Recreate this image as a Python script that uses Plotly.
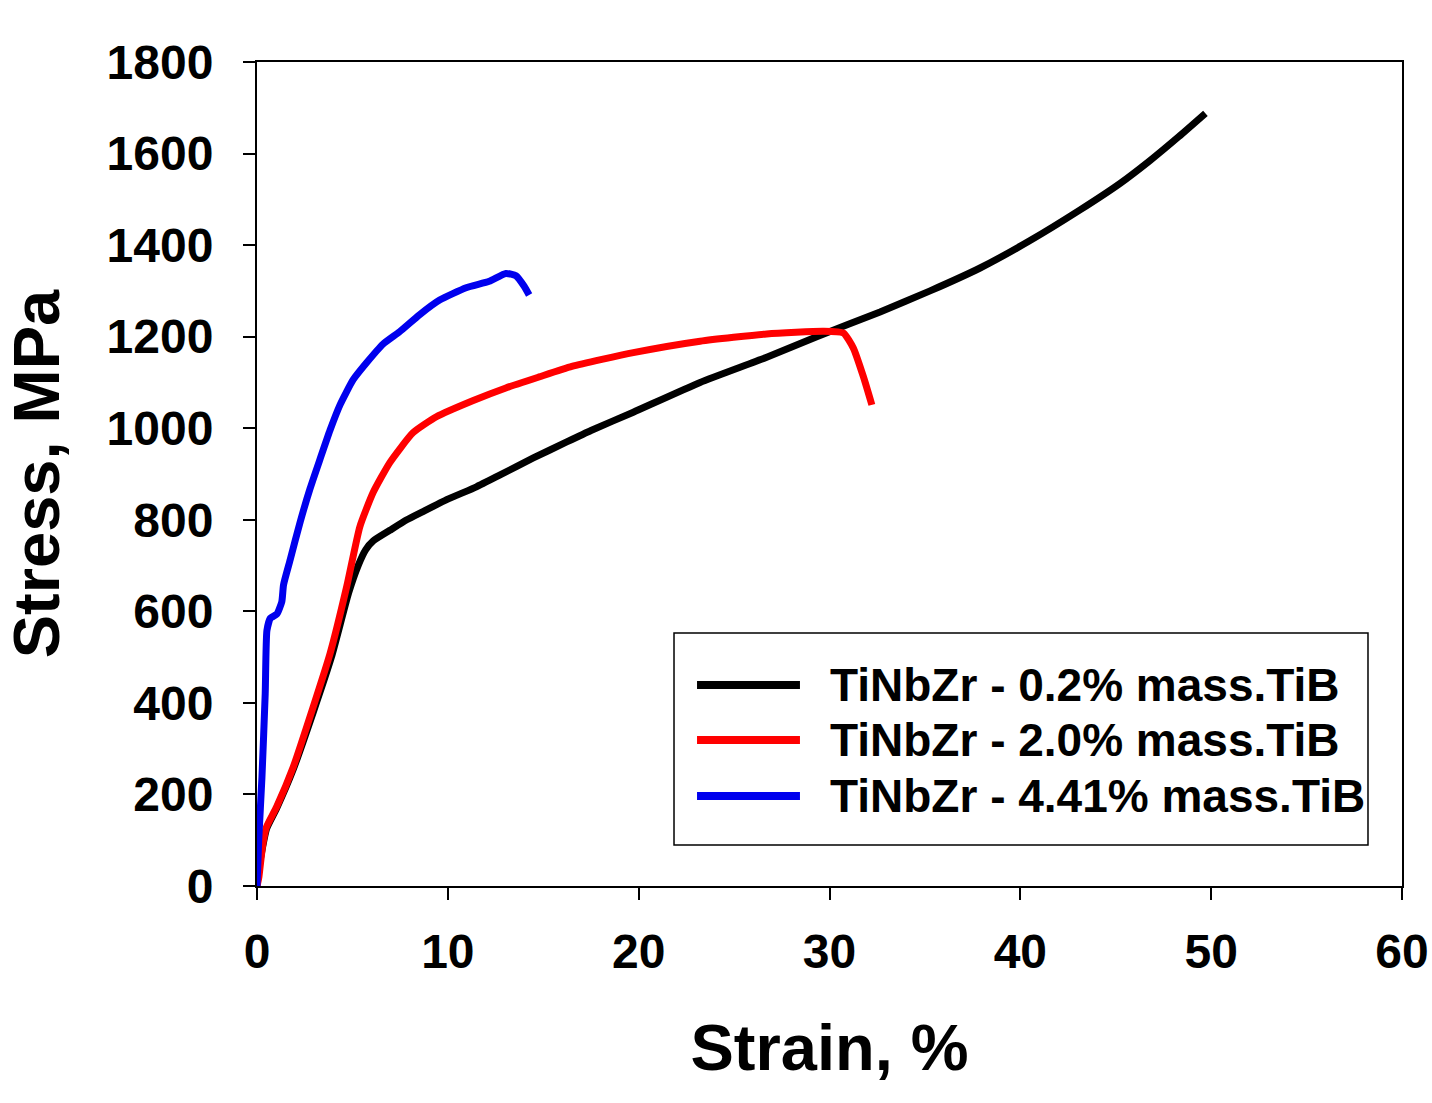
import plotly.graph_objects as go

# ---- data ----
names = ["TiNbZr - 0.2% mass.TiB", "TiNbZr - 2.0% mass.TiB", "TiNbZr - 4.41% mass.TiB"]
colors = ["#000000", "#ff0000", "#0000ee"]

strain_02 = [0, 0.1, 0.5, 1.03, 1.9, 2.95, 3.9, 4.8, 5.3, 5.7, 6.09, 6.96, 7.85, 8.7,
             10.0, 11.5, 12.74, 14.48, 16.23, 17.5, 19.72, 23.22, 26.71, 29.33, 32.65,
             35.27, 37.89, 40.51, 43.13, 45.23, 46.8, 48.3, 49.7]
stress_02 = [0, 40, 125, 170, 255, 380, 500, 640, 700, 735, 754, 777, 800, 818,
             845, 872, 898, 935, 970, 995, 1035, 1100, 1155, 1200, 1254,
             1300, 1350, 1410, 1477, 1535, 1585, 1637, 1688]

strain_20 = [0, 0.1, 0.3, 0.5, 1.03, 1.9, 2.95, 3.83, 4.7, 5.39, 6.09, 6.96, 8.17, 9.4,
             11.3, 13.04, 14.78, 16.5, 19.72, 23.22, 26.71, 29.68, 30.73, 31.25, 31.78,
             32.22]
stress_20 = [0, 20, 90, 129, 173, 260, 392, 508, 654, 785, 860, 925, 990, 1025,
             1060, 1088, 1112, 1135, 1165, 1190, 1206, 1212, 1208, 1175, 1112,
             1051]

strain_441 = [0, 0.09, 0.26, 0.43, 0.52, 0.7, 1.04, 1.3, 1.39, 1.74, 2.26, 2.78, 3.3, 3.83,
              4.35, 5.04, 5.74, 6.61, 7.48, 8.52, 9.57, 10.96, 12.17, 13.04, 13.57,
              14.0, 14.26]
stress_441 = [0, 100, 238, 420, 558, 585, 594, 621, 658, 713, 795, 868, 932, 996,
              1051, 1106, 1143, 1184, 1211, 1248, 1280, 1307, 1321, 1338, 1333,
              1310, 1291]

x_ticks = [0, 10, 20, 30, 40, 50, 60]
y_ticks = [0, 200, 400, 600, 800, 1000, 1200, 1400, 1600, 1800]

FONT = "Liberation Sans, Arial, sans-serif"

fig = go.Figure()
for xs, ys, nm, c in [(strain_02, stress_02, names[0], colors[0]),
                      (strain_20, stress_20, names[1], colors[1]),
                      (strain_441, stress_441, names[2], colors[2])]:
    fig.add_trace(go.Scatter(x=xs, y=ys, mode="lines", name=nm,
                             line=dict(color=c, width=7, shape="spline", smoothing=0.5),
                             showlegend=False))

# manual legend (box, line samples, labels) in paper coordinates
fig.add_shape(type="rect", xref="paper", yref="paper", x0=0.3642, x1=0.9703,
              y0=0.0498, y1=0.307, line=dict(color="black", width=1.5),
              fillcolor="white", layer="above")
leg_y = [0.2439, 0.1772, 0.1092]
for nm, c, yy in zip(names, colors, leg_y):
    fig.add_shape(type="line", xref="paper", yref="paper", x0=0.3843, x1=0.4742,
                  y0=yy, y1=yy, line=dict(color=c, width=8), layer="above")
    fig.add_annotation(xref="paper", yref="paper", x=0.4987, y=yy, text=nm,
                       showarrow=False, xanchor="left", yanchor="middle",
                       font=dict(family=FONT, size=46, color="black", weight="bold"))

fig.update_layout(
    width=1432, height=1103,
    margin=dict(l=257, r=30, t=62, b=217, autoexpand=False),
    paper_bgcolor="white", plot_bgcolor="white",
    font=dict(family=FONT, color="black", weight="bold"),
)
fig.update_xaxes(
    range=[0, 60], tickvals=x_ticks, ticktext=[str(v) for v in x_ticks],
    automargin=False,
    showgrid=False, zeroline=False, showline=True, linecolor="black", linewidth=2,
    mirror=True, ticks="outside", ticklen=12, tickwidth=2, tickcolor="black",
    tickfont=dict(family=FONT, size=48, color="black", weight="bold"),
    ticklabelstandoff=10,
    title=dict(text="Strain, %", font=dict(family=FONT, size=65, color="black", weight="bold"),
               standoff=48),
)
fig.update_yaxes(
    range=[0, 1800], tickvals=y_ticks, ticktext=[str(v) for v in y_ticks],
    automargin=False,
    showgrid=False, zeroline=False, showline=True, linecolor="black", linewidth=2,
    mirror=True, ticks="outside", ticklen=12, tickwidth=2, tickcolor="black",
    tickfont=dict(family=FONT, size=48, color="black", weight="bold"),
    ticklabelstandoff=20,
    title=dict(text="Stress, MPa", font=dict(family=FONT, size=65, color="black", weight="bold"),
               standoff=30),
)

fig.write_html("out.html")
